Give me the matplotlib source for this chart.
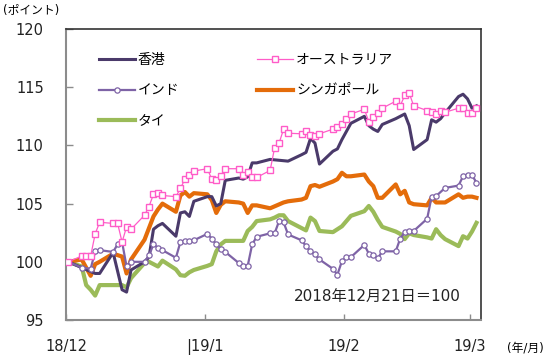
import numpy as np
import pandas as pd
import matplotlib.pyplot as plt
import matplotlib.dates as mdates

plt.rcParams['font.family'] = ['DejaVu Sans', 'Noto Sans CJK JP']

# 営業日 (2018/12/21 - 2019/3/22)
dates = pd.bdate_range('2018-12-21', '2019-03-22')

hongkong = [100, 99.5, None, None, 99.0, 99.0, 100.8, None, 97.6, 97.4,
            99.3, 100.0, 100.4, 102.8, 103.1, 103.3, 102.2, 104.2, 104.3, 103.9,
            105.2, 105.6, 105.6, 104.8, 105.0, 107.0, 107.2, 107.1, 107.3, 108.5,
            108.5, 108.8, None, None, None, 108.65, 109.2, 109.4, 110.6, 110.2,
            108.4, 109.5, 109.7, 110.5, 111.2, 111.9, 112.5, 111.7, 111.4, 111.2,
            111.8, 112.3, 112.5, 112.7, 111.7, 109.65, 110.5, 112.2, 112.0, 112.3,
            112.8, 114.2, 114.4, 114.0, 113.2, 113.4]

australia = [100, 100.5, 100.5, 100.5, 102.4, 103.4, 103.3, 103.3, 101.7, 103.0,
             102.8, 104.0, 104.75, 105.8, 105.95, 105.7, 105.6, 106.3, 107.1, 107.5,
             107.8, 108.0, 107.1, 107.0, 107.4, 108.0, 108.0, 107.5, 107.7, 107.25,
             107.25, 107.85, 109.8, 110.2, 111.4, 111.05, 111.0, 111.2, 110.9, 110.8,
             111.0, 111.4, 111.6, 111.8, 112.3, 112.7, 113.1, 112.05, 112.4, 112.8,
             113.2, 113.8, 113.4, 114.3, 114.5, 113.4, 113.0, 112.85, 112.7, 113.0,
             112.85, 113.2, 113.2, 112.8, 112.8, 113.25]

india = [100, 99.5, None, 99.4, 100.9, 101.0, 100.85, 101.5, 101.7, 99.6,
         100.0, 100.0, 100.55, 101.5, 101.2, 101.0, 100.35, 101.7, 101.8, 101.8,
         101.85, 102.4, 102.0, 101.5, 101.1, 100.85, 99.9, 99.65, 99.65, 101.5,
         102.15, 102.45, 102.45, 103.5, 103.4, 102.35, 101.85, 101.35, 100.9, 100.65,
         100.2, 99.4, 98.9, 100.05, 100.4, 100.4, 101.45, 100.7, 100.55, 100.3,
         100.9, 100.9, 102.0, 102.55, 102.65, 102.65, 103.7, 105.6, 105.65, None,
         106.35, 106.55, 107.35, 107.5, 107.45, 106.8]

singapore = [100, 100.2, None, 98.8, 99.8, 100.0, 100.7, None, 100.45, 99.0,
             100.2, 101.9, 102.9, 103.9, 104.5, 105.0, 104.3, 105.7, 106.0, 105.6,
             105.9, 105.8, 105.3, 104.2, 104.9, 105.2, 105.1, 105.0, 104.2, 104.85,
             104.85, 104.6, None, None, 105.1, 105.2, 105.35, 105.5, 106.5, 106.6,
             106.45, 106.9, 107.1, 107.65, 107.35, 107.35, 107.5, 106.9, 106.5, 105.5,
             105.5, 106.65, 105.8, 106.1, 105.1, 104.95, 104.85, 105.5, 105.1, 105.1,
             105.1, 105.8, 105.5, 105.6, 105.6, 105.5]

thailand = [100, 99.6, 98.0, 97.6, 97.1, 98.0, None, None, 98.0, 97.8,
            98.6, 99.9, 100.0, 99.8, 99.6, 100.1, 99.35, 98.85, 98.8, 99.1,
            99.3, 99.65, 99.8, 100.9, 101.5, 101.8, 101.8, 101.8, 102.65, 103.0,
            103.5, 103.65, 103.8, 104.0, 104.0, 103.5, 102.9, 102.7, 103.8, 103.5,
            102.65, 102.55, None, 103.05, 103.5, 103.95, 104.35, 104.8, 104.3, 103.6,
            103.0, 102.6, 102.4, 101.95, 102.45, 102.3, 102.1, 102.0, 102.8, 102.3,
            101.95, 101.35, 102.2, 102.0, 102.6, 103.35]

tick_dates = ['2018-12-21', '2019-01-21', '2019-02-21', '2019-03-21']
tick_labels = ['18/12', '|19/1', '19/2', '19/3']


def series(vals):
    s = pd.Series(vals, index=dates + pd.Timedelta(hours=12), dtype=float)
    return s.dropna()


fig = plt.figure(figsize=(5.5, 3.59), dpi=100)
ax = fig.add_axes([0.12, 0.1086, 0.7545, 0.8105])

th = series(thailand)
ax.plot(th.index, th.values, color='#9BBB59', lw=3.0, solid_joinstyle='round', zorder=2, label='タイ')
sg = series(singapore)
ax.plot(sg.index, sg.values, color='#E46C0A', lw=3.0, solid_joinstyle='round', zorder=3, label='シンガポール')
hk = series(hongkong)
ax.plot(hk.index, hk.values, color='#4A3A6A', lw=2.2, zorder=4, label='香港')
ind = series(india)
ax.plot(ind.index, ind.values, color='#7E63A6', lw=1.6, marker='o', ms=3.8,
        mfc='white', mec='#7E63A6', mew=0.9, zorder=5, label='インド')
au = series(australia)
ax.plot(au.index, au.values, color='#FF5CC8', lw=0.9, marker='s', ms=4.3,
        mfc='white', mec='#FF5CC8', mew=1.0, zorder=6, label='オーストラリア')

ax.set_ylim(95, 120)
ax.set_yticks([95, 100, 105, 110, 115, 120])
ax.set_xlim(pd.Timestamp('2018-12-21'), pd.Timestamp('2019-03-23 12:00'))
ax.set_xticks(pd.to_datetime(tick_dates))
ax.set_xticklabels(tick_labels)

ax.tick_params(axis='y', direction='in', length=5, width=1, color='#8c8c8c',
               labelsize=10.5, pad=16, labelcolor='#222222')
ax.tick_params(axis='x', direction='in', length=4, width=1, color='#8c8c8c',
               labelsize=10.5, pad=14, labelcolor='#222222')
for s in ['left', 'bottom']:
    ax.spines[s].set_color('#8c8c8c')
    ax.spines[s].set_linewidth(1.5)
for s in ['top', 'right']:
    ax.spines[s].set_color('#333333')
    ax.spines[s].set_linewidth(1.2)

h, l = ax.get_legend_handles_labels()
order = [l.index(n) for n in ['香港', 'インド', 'タイ', 'オーストラリア', 'シンガポール']]
ax.legend([h[i] for i in order], [l[i] for i in order], ncol=2,
          loc='upper left', bbox_to_anchor=(0.18, 0.853), bbox_transform=fig.transFigure,
          frameon=False, fontsize=10, handlelength=2.6, handletextpad=0.2,
          columnspacing=5.6, labelspacing=1.2, borderpad=0, borderaxespad=0)

fig.text(0.005, 0.97, '(ポイント)', fontsize=8.5, ha='left', va='center')
fig.text(0.955, 0.03, '(年/月)', fontsize=8.5, ha='center', va='center')
fig.text(0.686, 0.175, '2018年12月21日＝100', fontsize=11, ha='center', va='center', color='#222222')

fig.savefig('out.png', dpi=100)
